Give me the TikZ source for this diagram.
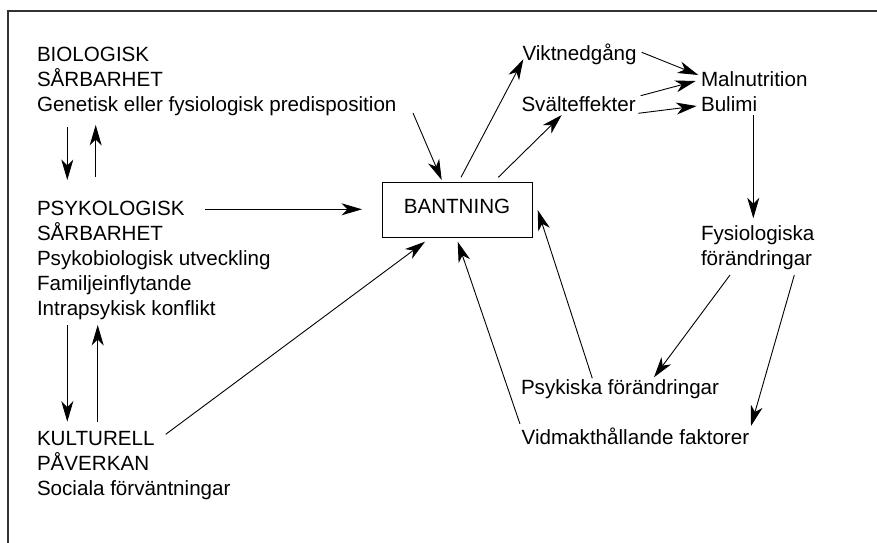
\documentclass[tikz,border=0pt]{standalone}
\usepackage{fontspec}
\setmainfont{Liberation Sans}
\usetikzlibrary{arrows.meta}
\begin{document}
\begin{tikzpicture}[x=1pt,y=-1pt,
  txt/.style={inner sep=0pt, anchor=base west, align=left, font=\fontsize{20.6}{25}\selectfont},
  arr/.style={line width=0.9pt, -{Stealth[length=20.5pt,width=12pt,inset=6pt]}},
  frameline/.style={line width=1.2pt, draw=black!80}]
\useasboundingbox (0,0) rectangle (877,542);
\fill[white] (0,0) rectangle (877,542);
\draw[frameline] (8,545) -- (8,11) -- (880,11);

% text nodes (base anchor = baseline of the last line)
\node[txt] (bio) at (36.8,111) {BIOLOGISK\\SÅRBARHET\\Genetisk eller fysiologisk predisposition};
\node[txt] (psy) at (36.8,315.5) {PSYKOLOGISK\\SÅRBARHET\\Psykobiologisk utveckling\\Familjeinflytande\\Intrapsykisk konflikt};
\node[txt] (kult) at (36.8,495) {KULTURELL\\PÅVERKAN\\Sociala förväntningar};
\node[draw, line width=1pt, minimum width=150pt, minimum height=55pt, inner sep=0pt, text depth=7pt,
      font=\fontsize{20.6}{25}\selectfont] (box) at (457,209.5) {BANTNING};
\node[txt] (vikt) at (522.3,60) {Viktnedgång};
\node[txt] (svalt) at (521.3,111.7) {Svälteffekter};
\node[txt] (mb) at (700.8,111.7) {Malnutrition\\Bulimi};
\node[txt] (fys) at (700.8,265.5) {Fysiologiska\\förändringar};
\node[txt] (psyk) at (520.8,394) {Psykiska förändringar};
\node[txt] (vidm) at (521.5,444) {Vidmakthållande faktorer};

% connector end points
\coordinate (bioD1) at (67.3,127);   \coordinate (psyU1) at (67.3,180);
\coordinate (psyU2) at (95.7,177);   \coordinate (bioD2) at (95.7,125);
\coordinate (bioE) at (413,113);     \coordinate (boxNW) at (441.7,180);
\coordinate (psyE) at (205,209.3);   \coordinate (boxW) at (362,209.3);
\coordinate (psyD1) at (67.3,325);   \coordinate (kultU1) at (67.3,421.7);
\coordinate (kultU2) at (97.7,421.7);\coordinate (psyD2) at (97.7,325);
\coordinate (kultE) at (165.7,434.3);\coordinate (boxSW) at (425,241.7);
\coordinate (boxN1) at (461,177.3);  \coordinate (viktW) at (523.3,59.3);
\coordinate (boxN2) at (498.3,177.3);\coordinate (svaltS) at (561.7,115);
\coordinate (viktE) at (641.7,52.3); \coordinate (malW1) at (698.3,75);
\coordinate (svaltE1) at (640.7,95.7);\coordinate (malW2) at (695.7,81);
\coordinate (svaltE2) at (638.3,113.3);\coordinate (bulW) at (696.7,106);
\coordinate (bulS) at (753.3,115);   \coordinate (fysN) at (753.3,218.3);
\coordinate (fysS1) at (730,275);    \coordinate (psykN) at (654,377.3);
\coordinate (fysS2) at (794.3,275);  \coordinate (vidmN) at (751,426);
\coordinate (psykW) at (592.3,378.3);\coordinate (boxE) at (537.7,210);
\coordinate (vidmW) at (520,424);    \coordinate (boxS) at (457.7,241.7);

% connectors
\draw[arr] (bioD1) -- (psyU1);
\draw[arr] (psyU2) -- (bioD2);
\draw[arr] (bioE) -- (boxNW);
\draw[arr] (psyE) -- (boxW);
\draw[arr] (psyD1) -- (kultU1);
\draw[arr] (kultU2) -- (psyD2);
\draw[arr] (kultE) -- (boxSW);
\draw[arr] (boxN1) -- (viktW);
\draw[arr] (boxN2) -- (svaltS);
\draw[arr] (viktE) -- (malW1);
\draw[arr] (svaltE1) -- (malW2);
\draw[arr] (svaltE2) -- (bulW);
\draw[arr] (bulS) -- (fysN);
\draw[arr] (fysS1) -- (psykN);
\draw[arr] (fysS2) -- (vidmN);
\draw[arr] (psykW) -- (boxE);
\draw[arr] (vidmW) -- (boxS);
\end{tikzpicture}
\end{document}
